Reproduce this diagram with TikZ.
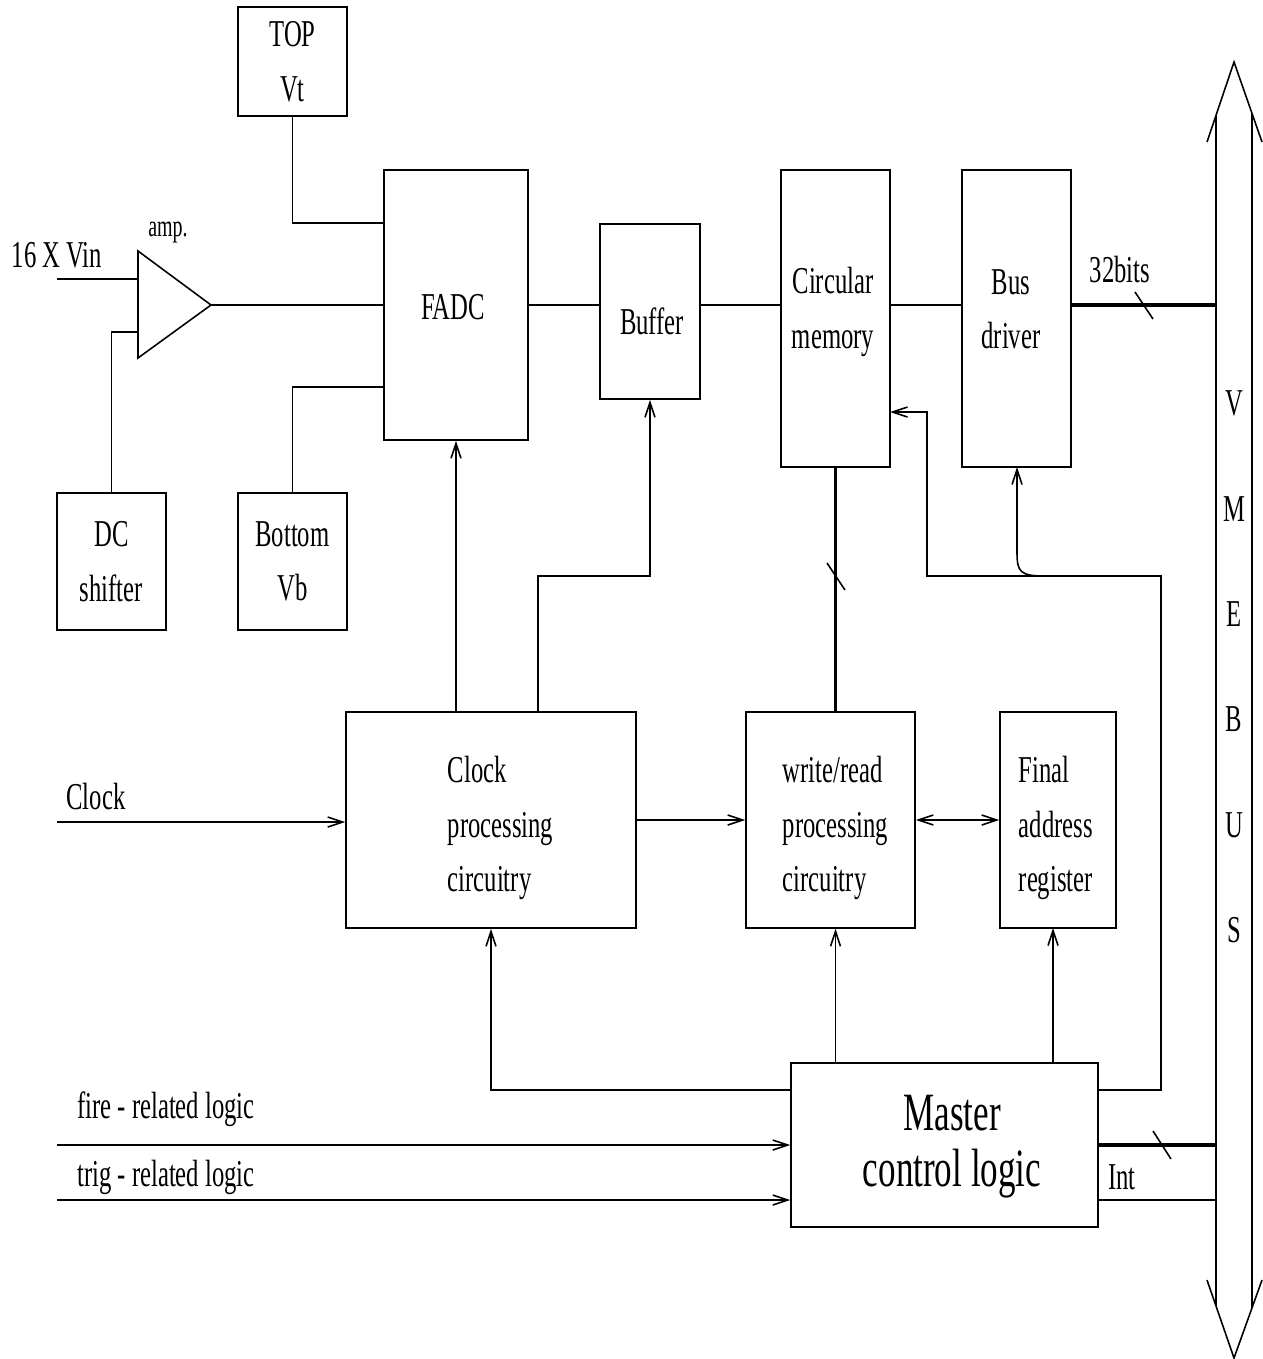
\documentclass[tikz,border=0pt]{standalone}
\usepackage{fontspec}
\setmainfont[FakeStretch=0.65]{Liberation Serif}
\usetikzlibrary{arrows.meta}
\newcommand\fnorm{\fontsize{21.6pt}{31pt}\selectfont}
\newcommand\fsmall{\fontsize{17.5pt}{21pt}\selectfont}
\newcommand\fbig{\fontsize{30.7pt}{32pt}\selectfont}
\begin{document}
\begin{tikzpicture}[x=0.02cm,y=-0.02cm, line width=0.9pt,
  box/.style={draw, line width=0.9pt, inner sep=0pt, align=center, font=\fnorm},
  txt/.style={inner sep=0pt, align=left, font=\fnorm},
  thickbus/.style={line width=2.8pt},
  >={Straight Barb[length=0.3cm,width=0.2cm]}]
\useasboundingbox (0,0) rectangle (1262,1359);

% boxes
\node[box, minimum width=2.18cm, minimum height=2.18cm] (top) at (292.5,61.5) {TOP\\Vt};
\node[box, minimum width=2.88cm, minimum height=5.4cm] (fadc) at (456,305) {};
\node[txt] (fadct) at (453,307) {FADC};
\node[box, minimum width=2.18cm, minimum height=2.74cm] (dc) at (111.5,561.5) {DC\\shifter};
\node[box, minimum width=2.18cm, minimum height=2.74cm] (bot) at (292.5,561.5) {Bottom\\Vb};
\node[box, minimum width=2cm, minimum height=3.5cm] (buf) at (650,311.5) {};
\node[txt] (buft) at (652,321) {Buffer};
\node[box, minimum width=2.18cm, minimum height=5.94cm] (cm) at (835.5,318.5) {};
\node[txt, align=center] (cmt) at (833,312) {Circular\\memory};
\node[box, minimum width=2.18cm, minimum height=5.94cm] (bus) at (1016.5,318.5) {};
\node[txt, align=center] (bust) at (1011,309) {Bus\\driver};
\node[box, minimum width=5.8cm, minimum height=4.32cm] (clk) at (491,820) {};
\node[txt, anchor=west] (clkt) at (447,828) {Clock\\processing\\circuitry};
\node[box, minimum width=3.38cm, minimum height=4.32cm] (wr) at (830.5,820) {};
\node[txt, anchor=west] (wrt) at (782,828) {write/read\\processing\\circuitry};
\node[box, minimum width=2.32cm, minimum height=4.32cm] (far) at (1058,820) {};
\node[txt, anchor=west] (fart) at (1018,828) {Final\\address\\register};
\node[box, minimum width=6.14cm, minimum height=3.28cm] (mcl) at (944.5,1145) {};
\node[txt, align=center, font=\fbig] (mclt) at (952,1147) {Master\\control logic};

% labels
\node[txt] (vin) at (57,255) {16 X Vin};
\node[txt, font=\fsmall] (amp) at (168,233) {amp.};
\node[txt] (clkl) at (96,797) {Clock};
\node[txt] (firel) at (166,1109) {fire - related logic};
\node[txt] (trigl) at (166,1177) {trig - related logic};
\node[txt] (bits) at (1120,270) {32bits};
\node[txt] (intl) at (1122,1177) {Int};
\node[txt, align=center, font=\fontsize{21.6pt}{60pt}\selectfont] (vmet) at (1234,667) {V\\M\\E\\B\\U\\S};

% VME bus double arrow
\draw (1207,142) -- (1234,62) -- (1262,142);
\draw (1207,1280) -- (1234,1358) -- (1262,1280);
\draw (1216,115) -- (1216,1306);
\draw (1252,113) -- (1252,1308);

% coordinates
\coordinate (fadcA) at (384,223);
\coordinate (fadcB) at (384,387);
\coordinate (ampA) at (138,251);
\coordinate (ampB) at (138,358);
\coordinate (ampO) at (211,305);
\coordinate (vinS) at (57,279);
\coordinate (ampI1) at (138,279);
\coordinate (ampI2) at (138,332);
\coordinate (vb305) at (1216,305);
\coordinate (ck2) at (538,712);
\coordinate (ck2b) at (538,576);
\coordinate (clkin) at (57,822);
\coordinate (m1) at (791,1090);
\coordinate (m2) at (1098,1090);
\coordinate (r1) at (1161,1090);
\coordinate (r2) at (1161,576);
\coordinate (r3) at (927,576);
\coordinate (r4) at (927,412);
\coordinate (cmin) at (890,412);
\coordinate (b1) at (1045,576);
\coordinate (b2) at (1017,552);
\coordinate (busin) at (1017,467);
\coordinate (fx) at (1053,928);
\coordinate (fire) at (57,1145);
\coordinate (trig) at (57,1200);
\coordinate (vb1145) at (1216,1145);
\coordinate (int1) at (1098,1200);
\coordinate (vb1200) at (1216,1200);

% amp
\draw (ampA) -- (ampO) -- (ampB) -- cycle;
\draw (vinS) -- (ampI1);
\draw (dc.north) |- (ampI2);
\draw (ampO) -- (fadc.west);
\draw (top.south) |- (fadcA);
\draw (bot.north) |- (fadcB);

% data path
\draw (fadc.east) -- (fadc.east -| buf.west);
\draw (fadc.east -| buf.east) -- (fadc.east -| cm.west);
\draw (fadc.east -| cm.east) -- (fadc.east -| bus.west);
\draw[thickbus] (vb305 -| bus.east) -- (vb305);
\draw (1135,292) -- (1153,319);

% clock
\draw[->] (fadc.south |- clk.north) -- (fadc.south);
\draw[->] (ck2) -- (ck2b) -| (buf.south);
\draw[->] (clkin) -- (clkin -| clk.west);
\draw[->] (clk.east) -- (wr.west);
\draw[<->] (wr.east) -- (far.west);
\draw[line width=1.7pt] (cm.south) -- (cm.south |- wr.north);
\draw (827,563) -- (845,590);

% master
\draw[->] (m1) -| (clk.south);
\draw[->] (mcl.north -| cm.south) -- (wr.south -| cm.south);
\draw[->] (fx |- mcl.north) -- (fx);
\draw[->] (m2) -- (r1) -- (r2) -- (r3) -- (r4) -- (cmin);
\draw[->] (b1) .. controls (1020,576) and (1017,572) .. (b2) -- (busin);
\draw[->] (fire) -- (mcl.west);
\draw[->] (trig) -- (trig -| mcl.west);
\draw[thickbus] (mcl.east) -- (vb1145);
\draw (1153,1131) -- (1171,1159);
\draw (int1) -- (vb1200);
\end{tikzpicture}
\end{document}
